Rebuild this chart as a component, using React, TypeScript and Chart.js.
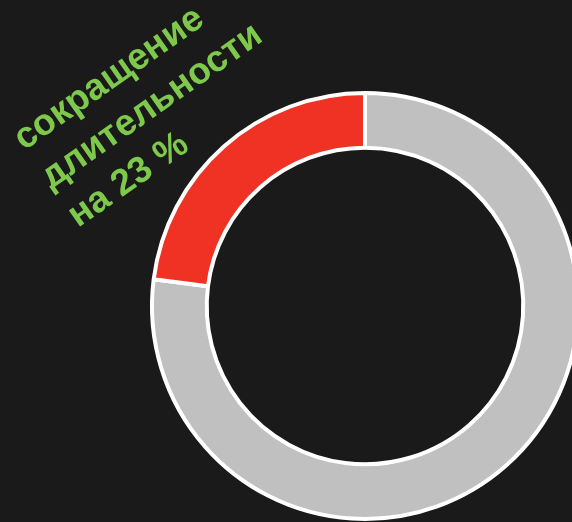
import React, { useEffect, useRef } from "react";
import { Chart, registerables } from "chart.js";

Chart.register(...registerables);

const categories = ["остальное", "сокращение"];
const values = [77, 23];
const colors = ["#c0c0c0", "#f03224"];
const titleLines = ["сокращение", "длительности", "на 23 %"];

const textPlugin = {
  id: "rotatedTitle",
  afterDraw(chart: any) {
    const ctx = chart.ctx;
    ctx.save();
    ctx.translate(24, 151);
    ctx.rotate((-35 * Math.PI) / 180);
    ctx.fillStyle = "#7ec94c";
    ctx.font = "bold 37px 'Liberation Sans', Arial, sans-serif";
    ctx.textAlign = "left";
    ctx.textBaseline = "alphabetic";
    titleLines.forEach((line, i) => {
      ctx.fillText(line, 0, i * 47);
    });
    ctx.restore();
  },
};

export default function App() {
  const ref = useRef<HTMLCanvasElement>(null);
  useEffect(() => {
    if (!ref.current) return;
    const chart = new Chart(ref.current, {
      type: "doughnut",
      data: {
        labels: categories,
        datasets: [
          {
            data: values,
            backgroundColor: colors,
            borderColor: "#ffffff",
            borderWidth: 4,
          },
        ],
      },
      options: {
        responsive: false,
        animation: false,
        radius: 213,
        cutout: "74.3%",
        layout: { padding: 0 },
        plugins: { legend: { display: false }, tooltip: { enabled: false } },
      } as any,
      plugins: [textPlugin],
    });
    return () => chart.destroy();
  }, []);
  return (
    <div
      style={{
        position: "fixed",
        left: 0,
        top: 0,
        width: 572,
        height: 522,
        overflow: "hidden",
        background: "#1a1a1a",
      }}
    >
      <canvas
        ref={ref}
        width={730}
        height={612}
        style={{ position: "absolute", left: 0, top: 0, width: 730, height: 612 }}
      />
    </div>
  );
}
